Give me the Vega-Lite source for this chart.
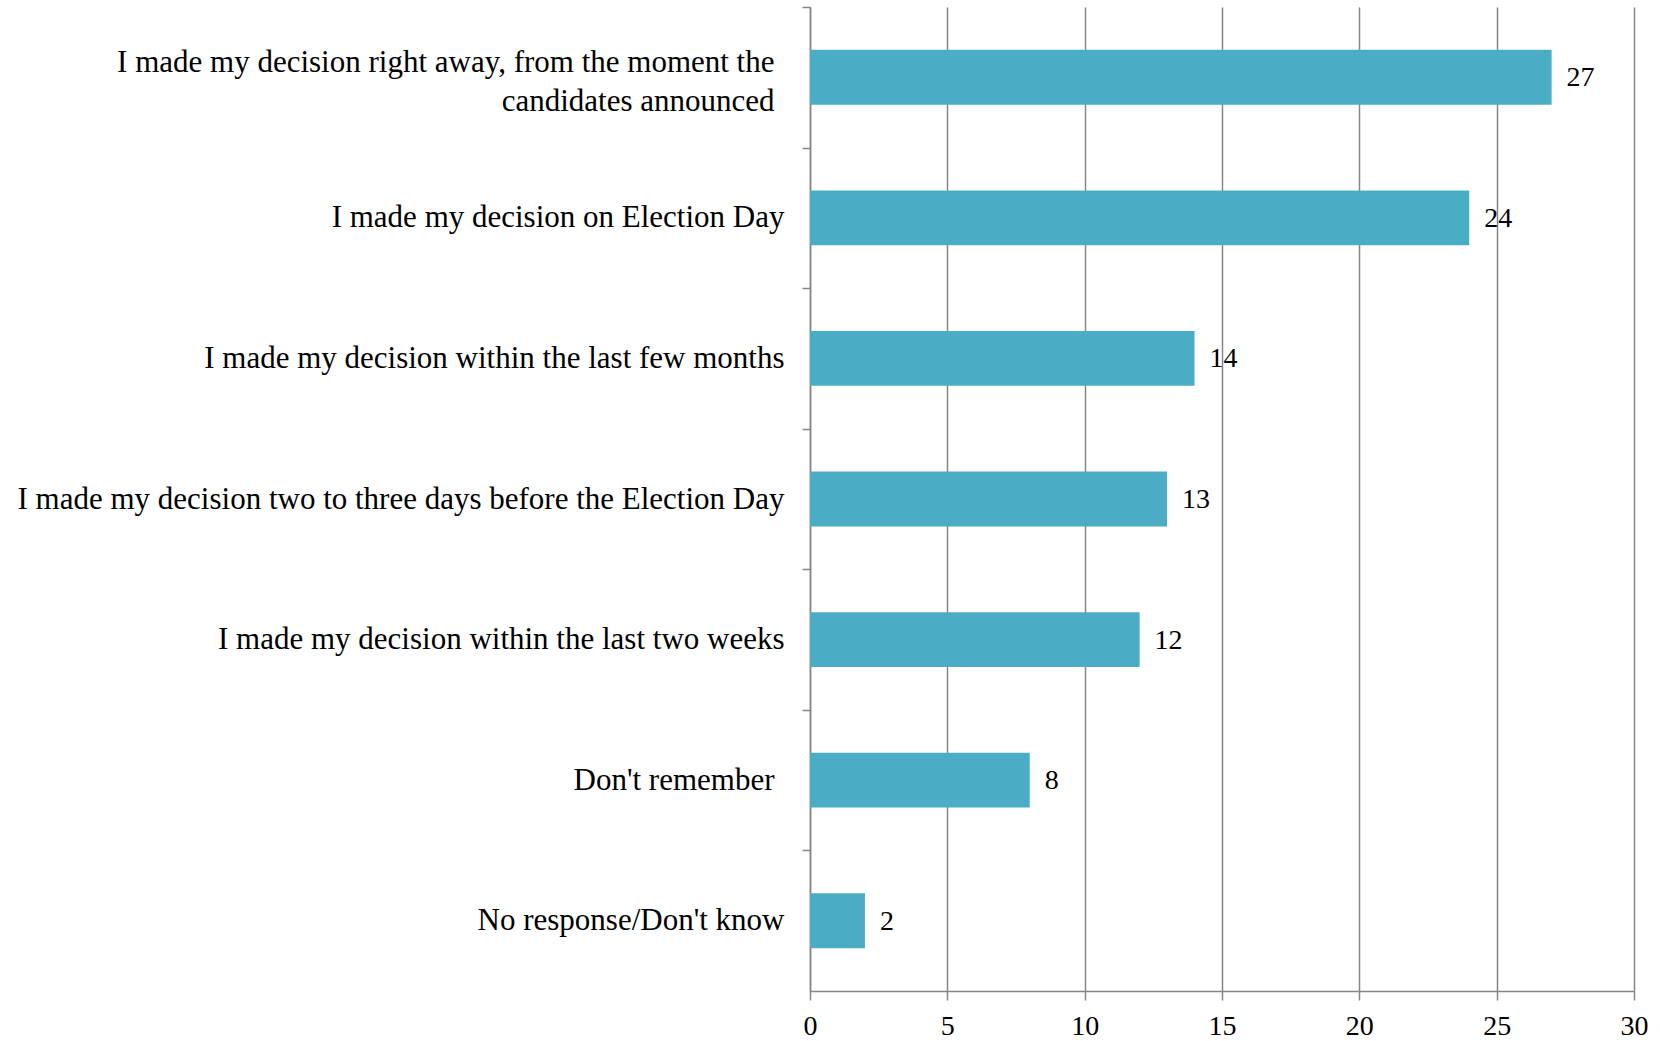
{
  "$schema": "https://vega.github.io/schema/vega-lite/v6.json",
  "width": 824,
  "height": 984,
  "autosize": {"type": "none"},
  "padding": {"left": 810, "top": 7, "right": 26, "bottom": 50},
  "background": "white",
  "data": {
    "values": [
      {"answer": "I made my decision right away, from the moment the candidates announced", "value": 27},
      {"answer": "I made my decision on Election Day", "value": 24},
      {"answer": "I made my decision within the last few months", "value": 14},
      {"answer": "I made my decision two to three days before the Election Day", "value": 13},
      {"answer": "I made my decision within the last two weeks", "value": 12},
      {"answer": "Don't remember", "value": 8},
      {"answer": "No response/Don't know", "value": 2}
    ]
  },
  "config": {
    "view": {"stroke": null},
    "font": "Liberation Serif"
  },
  "encoding": {
    "y": {
      "field": "answer",
      "type": "nominal",
      "sort": null,
      "title": null,
      "scale": {"paddingInner": 0.61, "paddingOuter": 0.305},
      "axis": {
        "labelFont": "Liberation Serif",
        "labelFontSize": 31,
        "labelColor": "#000000",
        "labelLimit": 900,
        "labelPadding": {"condition": {"test": "indexof(datum.label, 'right away') >= 0 || indexof(datum.label, 'remember') >= 0", "value": 28}, "value": 18},
        "labelLineHeight": 39,
        "labelOffset": {"condition": {"test": "indexof(datum.label, 'right away') >= 0", "value": 56}, "value": 70.3},
        "labelExpr": "datum.label == 'I made my decision right away, from the moment the candidates announced' ? ['I made my decision right away, from the moment the', 'candidates announced'] : datum.label",
        "tickOffset": -70.3,
        "tickSize": 8,
        "tickColor": "#868686",
        "tickWidth": 1.5,
        "domainColor": "#868686",
        "domainWidth": 1.5,
        "grid": false
      }
    },
    "x": {
      "field": "value",
      "type": "quantitative",
      "title": null,
      "scale": {"domain": [0, 30], "nice": false},
      "axis": {
        "values": [0, 5, 10, 15, 20, 25, 30],
        "labelFont": "Liberation Serif",
        "labelFontSize": 28,
        "labelColor": "#000000",
        "labelPadding": 12,
        "tickSize": 9,
        "tickColor": "#868686",
        "tickWidth": 1.5,
        "domainColor": "#868686",
        "domainWidth": 1.5,
        "grid": true,
        "gridColor": "#868686",
        "gridWidth": 1.5,
        "labelFlush": false
      }
    }
  },
  "layer": [
    {
      "mark": {"type": "bar", "color": "#4BACC6"}
    },
    {
      "mark": {"type": "text", "align": "left", "baseline": "middle", "dx": 15, "dy": 1, "fontSize": 28, "font": "Liberation Serif", "color": "#000000"},
      "encoding": {"text": {"field": "value", "type": "quantitative"}}
    }
  ]
}
